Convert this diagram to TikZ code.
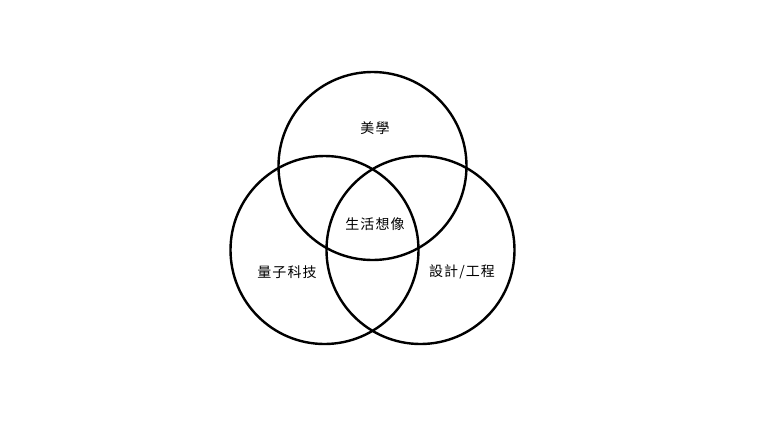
\documentclass[tikz,border=0pt]{standalone}
\usepackage{fontspec}
\newfontfamily\cjk[LetterSpace=8]{Noto Sans CJK TC}
\begin{document}
\begin{tikzpicture}[x=1pt,y=-1pt,
  ring/.style={draw=black,line width=2.4pt,circle,minimum size=188pt,inner sep=0pt},
  lbl/.style={font=\cjk\fontsize{14}{16}\selectfont,text=black,inner sep=0pt}]
\useasboundingbox[fill=white] (0,0) rectangle (768,432);
\node[ring] (top) at (372.5,166) {};
\node[ring] (left) at (324.5,250) {};
\node[ring] (right) at (420.5,250) {};
\node[lbl] (a) at (375,128) {美學};
\node[lbl] (b) at (375,224) {生活想像};
\node[lbl] (c) at (287,272) {量子科技};
\node[lbl] (d) at (462,272) {設計/工程};
\end{tikzpicture}
\end{document}
